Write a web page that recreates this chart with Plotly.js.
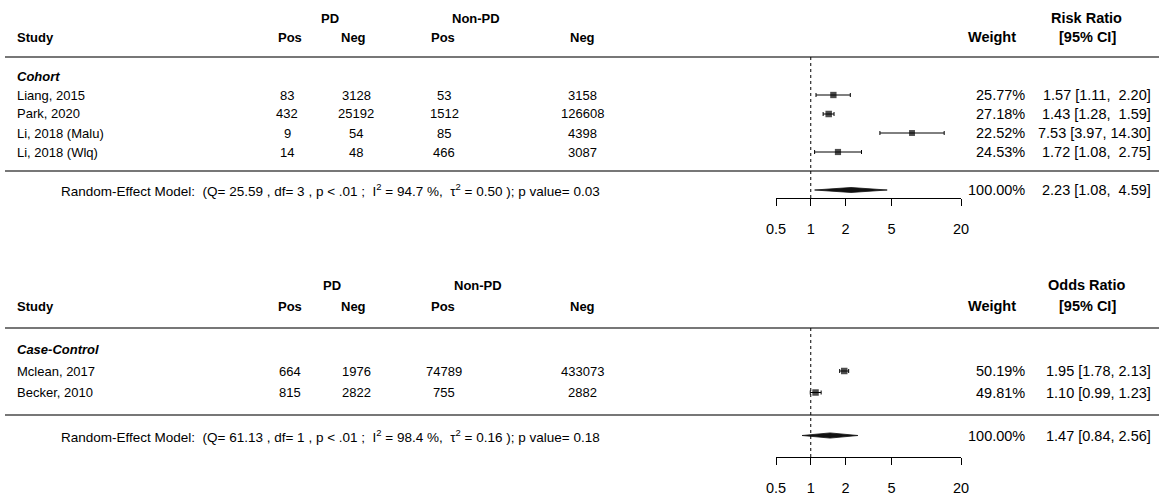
<!DOCTYPE html>
<html><head><meta charset="utf-8">
<script src="https://cdn.plot.ly/plotly-3.0.1.min.js"></script>
<style>html,body{margin:0;padding:0;background:#fff}#chart{width:1159px;height:498px}</style>
</head><body><div id="chart"></div>
<script>
// ---------- DATA: Cohort (Risk Ratio) ----------
const cohortStudies = ["Liang, 2015", "Park, 2020", "Li, 2018 (Malu)", "Li, 2018 (Wlq)"];
const cohortPdPos   = [83, 432, 9, 14];
const cohortPdNeg   = [3128, 25192, 54, 48];
const cohortNonPos  = [53, 1512, 85, 466];
const cohortNonNeg  = [3158, 126608, 4398, 3087];
const cohortWeight  = [25.77, 27.18, 22.52, 24.53];
const cohortEst     = [1.57, 1.43, 7.53, 1.72];
const cohortLo      = [1.11, 1.28, 3.97, 1.08];
const cohortHi      = [2.20, 1.59, 14.30, 2.75];
const cohortPooled  = [2.23, 1.08, 4.59];            // estimate, lower, upper
const cohortStats   = ["25.59", "3", "94.7", "0.50", "0.03"]; // Q, df, I2, tau2, p

// ---------- DATA: Case-Control (Odds Ratio) ----------
const ccStudies = ["Mclean, 2017", "Becker, 2010"];
const ccPdPos   = [664, 815];
const ccPdNeg   = [1976, 2822];
const ccNonPos  = [74789, 755];
const ccNonNeg  = [433073, 2882];
const ccWeight  = [50.19, 49.81];
const ccEst     = [1.95, 1.10];
const ccLo      = [1.78, 0.99];
const ccHi      = [2.13, 1.23];
const ccPooled  = [1.47, 0.84, 2.56];
const ccStats   = ["61.13", "1", "98.4", "0.16", "0.18"];

// ---------- axis ticks ----------
const tickVals = [0.5, 1, 2, 5, 20];
const tickText = ["0.5", "1", "2", "5", "20"];

// ---------- layout helpers ----------
const W = 1159, H = 498;
const FONT = "Liberation Sans, Arial, Helvetica, sans-serif";
const px = x => x / W;
const py = y => 1 - y / H;
const NB = "\u00a0";
const LEFT_SIZE = 13, RIGHT_SIZE = 14.5;

const annotations = [];
const shapes = [];
const traces = [];

function txt(text, x, y, anchor, bold, size) {
  annotations.push({
    text: bold ? "<b>" + text + "</b>" : text,
    xref: "paper", yref: "paper", x: px(x), y: py(y),
    xanchor: anchor, yanchor: "middle", showarrow: false,
    font: {family: FONT, size: size || LEFT_SIZE, color: "#000"}
  });
}
function hline(y) {
  shapes.push({type: "line", xref: "paper", yref: "paper",
    x0: px(5), x1: px(1159), y0: py(y), y1: py(y),
    line: {color: "#4a4a4a", width: 1.6}});
}
function fmtCI(e, l, h, padLen) {
  const hs = h.toFixed(2);
  return e.toFixed(2) + " [" + l.toFixed(2) + "," + NB + NB.repeat(Math.max(0, padLen - hs.length)) + hs + "]";
}

function panel(p) {
  const n = p.studies.length;
  const rowPx = i => p.row0 + p.step * i;
  const his = p.hi.concat([p.pooled[2]]).map(v => v.toFixed(2).length);
  const padLen = Math.max.apply(null, his);

  // header
  txt("PD", p.pdX, p.h1, "center", true);
  txt("Non-PD", p.nonX, p.h1, "center", true);
  txt(p.measure, 1086, p.h1, "center", true, RIGHT_SIZE);
  txt("Study", 15, p.h2, "left", true);
  txt("Pos", 290, p.h2, "center", true);
  txt("Neg", 353, p.h2, "center", true);
  txt("Pos", 443, p.h2, "center", true);
  txt("Neg", 582, p.h2, "center", true);
  txt("Weight", 992, p.h2, "center", true, RIGHT_SIZE);
  txt("[95% CI]", 1087, p.h2, "center", true, RIGHT_SIZE);
  hline(p.lineTop);

  txt("<i>" + p.group + "</i>", 15, rowPx(0), "left", true);
  for (let i = 0; i < n; i++) {
    const y = rowPx(i + 1);
    txt(p.studies[i], 15, y, "left", false);
    txt(String(p.pdPos[i]), p.c1, y, "center", false);
    txt(String(p.pdNeg[i]), 356, y, "center", false);
    txt(String(p.nonPos[i]), 444, y, "center", false);
    txt(String(p.nonNeg[i]), 582, y, "center", false);
    txt(p.weight[i].toFixed(2) + "%", 1027, y, "right", false, RIGHT_SIZE);
    txt(fmtCI(p.est[i], p.lo[i], p.hi[i], padLen), 1153, y, "right", false, RIGHT_SIZE);
  }
  hline(p.lineMid);

  const yp = rowPx(n + 2);
  const s = p.stats;
  txt("Random-Effect Model:" + NB + NB + "(Q= " + s[0] + " , df= " + s[1] + " , p < .01 ;" + NB + NB +
      "I<sup>2</sup> = " + s[2] + " %," + NB + NB + "\u03c4<sup>2</sup> = " + s[3] + " ); p value= " + s[4],
      331, yp, "center", false, 13.5);
  const wSum = p.weight.reduce((a, b) => a + b, 0);
  txt(wSum.toFixed(2) + "%", 1027, yp, "right", false, RIGHT_SIZE);
  txt(fmtCI(p.pooled[0], p.pooled[1], p.pooled[2], padLen), 1153, yp, "right", false, RIGHT_SIZE);

  // forest part (data axes)
  const xa = "x" + p.ax, ya = "y" + p.ax;
  const maxW = Math.max.apply(null, p.weight);
  const rows = p.studies.map((_, i) => i + 1);
  traces.push({
    type: "scatter", mode: "markers", xaxis: xa, yaxis: ya,
    x: p.est, y: rows,
    marker: {symbol: "square", color: "#000", size: p.weight.map(w => 6.5 * Math.sqrt(w / maxW)), line: {width: 0}},
    error_x: {type: "data", symmetric: false,
      array: p.est.map((e, i) => p.hi[i] - e),
      arrayminus: p.est.map((e, i) => e - p.lo[i]),
      color: "#000", thickness: 1, width: 2},
    cliponaxis: false, hoverinfo: "skip"
  });
  const r = n + 2, h = p.dh;
  traces.push({
    type: "scatter", mode: "lines", xaxis: xa, yaxis: ya, fill: "toself",
    x: [p.pooled[1], p.pooled[0], p.pooled[2], p.pooled[0], p.pooled[1]],
    y: [r, r - h, r, r + h, r],
    line: {color: "#111", width: 0.8}, fillcolor: "#111", hoverinfo: "skip", cliponaxis: false
  });
  shapes.push({type: "line", xref: xa, yref: ya + " domain", x0: 1, x1: 1, y0: 0, y1: 1,
    line: {color: "#000", width: 1, dash: "dot"}});

  // axes
  const yTopRow = (p.lineTop - p.row0) / p.step;
  const yBotRow = (p.axisY - p.row0) / p.step;
  const xKey = p.ax === "" ? "xaxis" : "xaxis" + p.ax;
  const yKey = p.ax === "" ? "yaxis" : "yaxis" + p.ax;
  layout[xKey] = {
    type: "log", domain: [px(776), px(961)],
    range: [Math.log10(0.5), Math.log10(20)], anchor: ya,
    showline: true, linecolor: "#000", linewidth: 1,
    ticks: "outside", ticklen: 7, tickwidth: 1, tickcolor: "#000",
    tickvals: tickVals, ticktext: tickText, ticklabelstandoff: p.standoff,
    tickfont: {family: FONT, size: RIGHT_SIZE, color: "#000"},
    showgrid: false, zeroline: false, fixedrange: true
  };
  layout[yKey] = {
    domain: [py(p.axisY), py(p.lineTop)], range: [yBotRow, yTopRow], anchor: xa,
    visible: false, showgrid: false, zeroline: false, fixedrange: true
  };
}

const layout = {
  width: W, height: H, margin: {l: 0, r: 0, t: 0, b: 0},
  paper_bgcolor: "#fff", plot_bgcolor: "rgba(0,0,0,0)",
  showlegend: false, hovermode: false,
  font: {family: FONT, size: 13, color: "#000"},
  annotations: annotations, shapes: shapes
};

panel({ax: "", group: "Cohort", measure: "Risk Ratio",
  studies: cohortStudies, pdPos: cohortPdPos, pdNeg: cohortPdNeg, nonPos: cohortNonPos, nonNeg: cohortNonNeg,
  weight: cohortWeight, est: cohortEst, lo: cohortLo, hi: cohortHi, pooled: cohortPooled, stats: cohortStats,
  h1: 18, h2: 37, lineTop: 57, row0: 76, step: 19, lineMid: 171, axisY: 198,
  pdX: 330, nonX: 476, c1: 287, dh: 0.13, standoff: 11});

panel({ax: "2", group: "Case-Control", measure: "Odds Ratio",
  studies: ccStudies, pdPos: ccPdPos, pdNeg: ccPdNeg, nonPos: ccNonPos, nonNeg: ccNonNeg,
  weight: ccWeight, est: ccEst, lo: ccLo, hi: ccHi, pooled: ccPooled, stats: ccStats,
  h1: 285, h2: 306, lineTop: 328, row0: 349.5, step: 21.5, lineMid: 415, axisY: 457,
  pdX: 332, nonX: 478, c1: 290, dh: 0.12, standoff: 11});

Plotly.newPlot("chart", traces, layout, {staticPlot: true, displayModeBar: false});
</script>
</body></html>
